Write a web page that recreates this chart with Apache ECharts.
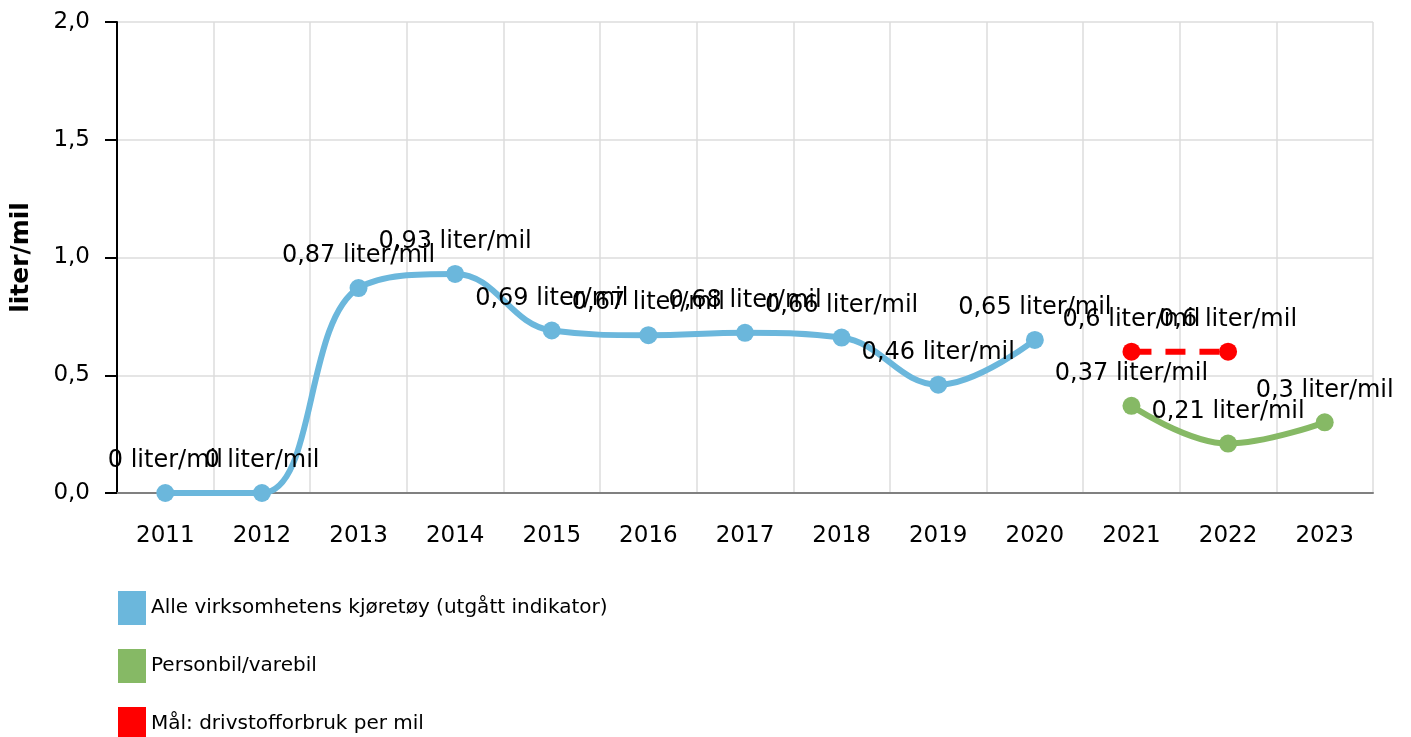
<!DOCTYPE html>
<html><head><meta charset="utf-8">
<script src="https://cdn.jsdelivr.net/npm/echarts@6/dist/echarts.min.js"></script>
<style>html,body{margin:0;padding:0;background:#fff}#c{width:1411px;height:737px}</style>
</head><body><div id="c"></div>
<script>
const categories = ['2011','2012','2013','2014','2015','2016','2017','2018','2019','2020','2021','2022','2023'];
const allVehicles = [0, 0, 0.87, 0.93, 0.69, 0.67, 0.68, 0.66, 0.46, 0.65, null, null, null];
const carVan = [null, null, null, null, null, null, null, null, null, null, 0.37, 0.21, 0.3];
const target = [null, null, null, null, null, null, null, null, null, null, 0.6, 0.6, null];
const yTicks = [0, 0.5, 1.0, 1.5, 2.0];
const seriesNames = ['Alle virksomhetens kjøretøy (utgått indikator)', 'Personbil/varebil', 'Mål: drivstofforbruk per mil'];

const FONT = 'DejaVu Sans';
const FS = 23;
const fmt = v => String(v).replace('.', ',') + ' liter/mil';
const label = {show:true, position:'top', distance:11, color:'#000', fontFamily:FONT, fontSize:24,
  formatter: p => fmt(p.value)};

const chart = echarts.init(document.getElementById('c'));
chart.setOption({
  animation:false,
  textStyle:{fontFamily:FONT},
  grid:{left:117, right:38, top:22, bottom:244, containLabel:false, outerBoundsMode:'none'},
  legend:{
    orient:'vertical', left:113, top:586, height:300, itemWidth:28, itemHeight:34, itemGap:24,
    icon:'rect', textStyle:{fontFamily:FONT, fontSize:20, color:'#000'},
    data:seriesNames.map(n=>({name:n})),
    selectedMode:false
  },
  xAxis:{
    type:'category', data:categories, boundaryGap:true,
    axisLine:{lineStyle:{color:'#808080', width:2}},
    axisTick:{alignWithLabel:true, length:10, lineStyle:{color:'#808080', width:2}},
    axisLabel:{color:'#000', fontFamily:FONT, fontSize:FS, margin:32},
    splitLine:{show:true, lineStyle:{color:'#dcdcdc', width:1.5}}
  },
  yAxis:{
    type:'value', min:0, max:2, interval:0.5,
    name:'liter/mil', nameLocation:'middle', nameGap:83, nameRotate:90,
    nameTextStyle:{fontFamily:FONT, fontSize:25, fontWeight:'bold', color:'#000'},
    axisLine:{show:true, lineStyle:{color:'#000', width:2}},
    axisTick:{show:true, length:12, lineStyle:{color:'#000', width:2}},
    axisLabel:{color:'#000', fontFamily:FONT, fontSize:FS, margin:27,
      formatter: v => yTicks.includes(v) ? v.toFixed(1).replace('.', ',') : ''},
    splitLine:{lineStyle:{color:'#dcdcdc', width:1.5}}
  },
  series:[
    {name:seriesNames[0], type:'line', data:allVehicles, smooth:0.4, connectNulls:false,
     symbol:'circle', symbolSize:18, color:'#6bb7dc',
     lineStyle:{width:6, color:'#6bb7dc'}, itemStyle:{color:'#6bb7dc'}, label:label, z:3},
    {name:seriesNames[1], type:'line', data:carVan, smooth:0.4,
     symbol:'circle', symbolSize:18, color:'#86b965',
     lineStyle:{width:6, color:'#86b965'}, itemStyle:{color:'#86b965'}, label:label, z:3},
    {name:seriesNames[2], type:'line', data:target, smooth:false,
     symbol:'circle', symbolSize:18, color:'#ff0000',
     lineStyle:{width:6, color:'#ff0000', type:[20,14]}, itemStyle:{color:'#ff0000'}, label:label, z:3}
  ]
});
</script></body></html>
